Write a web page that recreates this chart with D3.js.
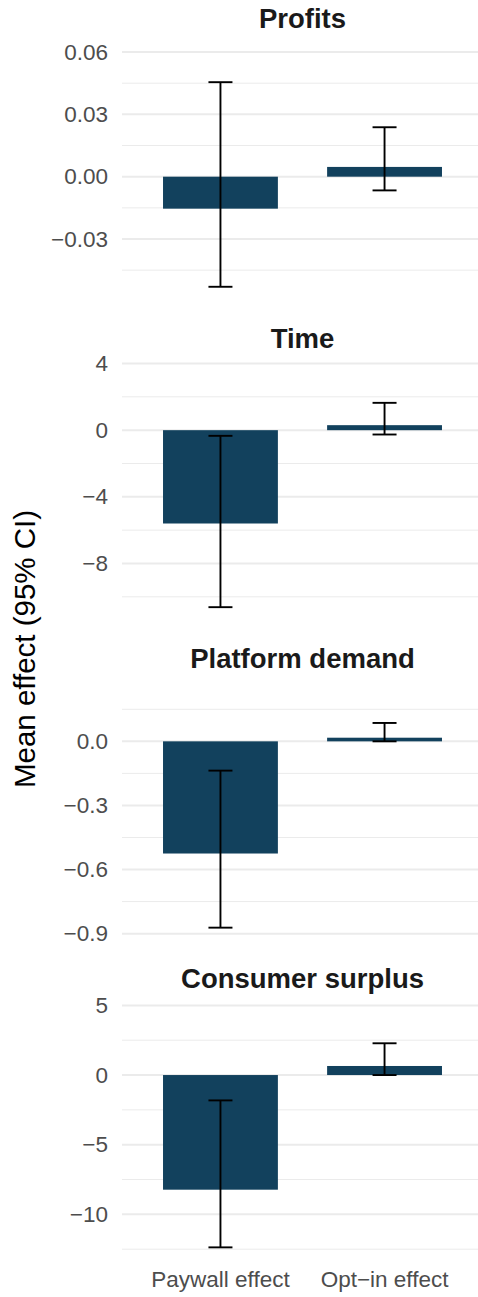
<!DOCTYPE html>
<html>
<head>
<meta charset="utf-8">
<script src="https://cdn.jsdelivr.net/npm/d3@7"></script>
<style>
  html, body { margin: 0; padding: 0; background: #ffffff; }
  svg { display: block; }
</style>
</head>
<body>
<div id="chart"></div>
<script>
// Effects by outcome, one facet per outcome
const categories = ["Paywall effect", "Opt\u2212in effect"];
const panelTitles = ["Profits", "Time", "Platform demand", "Consumer surplus"];

// Mean effect per category, one array per outcome
const meanProfits  = [-0.0154, 0.0047];
const meanTime     = [-5.60, 0.30];
const meanDemand   = [-0.525, 0.017];
const meanSurplus  = [-8.23, 0.65];

// 95% confidence interval bounds [low, high] per category
const ciProfits  = [[-0.0530, 0.0455], [-0.0066, 0.0238]];
const ciTime     = [[-10.62, -0.34], [-0.26, 1.64]];
const ciDemand   = [[-0.872, -0.137], [0.000, 0.086]];
const ciSurplus  = [[-12.37, -1.82], [0.00, 2.28]];

// y-axis limits per facet
const limProfits = [-0.0584, 0.0658];
const limTime    = [-11.28, 4.2];
const limDemand  = [-0.922, 0.2855];
const limSurplus = [-13.17, 5.35];

// major tick values and their labels per facet
const ticksProfits = [-0.03, 0, 0.03, 0.06];
const labelsProfits = ["\u22120.03", "0.00", "0.03", "0.06"];
const ticksTime = [-8, -4, 0, 4];
const labelsTime = ["\u22128", "\u22124", "0", "4"];
const ticksDemand = [-0.9, -0.6, -0.3, 0.0];
const labelsDemand = ["\u22120.9", "\u22120.6", "\u22120.3", "0.0"];
const ticksSurplus = [-10, -5, 0, 5];
const labelsSurplus = ["\u221210", "\u22125", "0", "5"];

const panels = [
  { title: panelTitles[0], mean: meanProfits, ci: ciProfits, lim: limProfits, ticks: ticksProfits, labels: labelsProfits },
  { title: panelTitles[1], mean: meanTime,    ci: ciTime,    lim: limTime,    ticks: ticksTime,    labels: labelsTime },
  { title: panelTitles[2], mean: meanDemand,  ci: ciDemand,  lim: limDemand,  ticks: ticksDemand,  labels: labelsDemand },
  { title: panelTitles[3], mean: meanSurplus, ci: ciSurplus, lim: limSurplus, ticks: ticksSurplus, labels: labelsSurplus }
];

const W = 478, H = 1297;
const FONT = "'Liberation Sans', Arial, Helvetica, sans-serif";
const barColor = "#12415d";
const gridColor = "#ebebeb";

const plotLeft = 122, plotRight = 483;
const blockH = 320.17;       // strip + panel height per facet
const panelTop = 40, panelBottom = 298;

const svg = d3.select("#chart").append("svg")
  .attr("width", W).attr("height", H)
  .style("font-family", FONT);

const x = d3.scalePoint().domain(categories).range([plotLeft, plotRight]).padding(0.6);
const barW = x.step() * 0.7;
const capW = 24;

panels.forEach((p, i) => {
  const g = svg.append("g").attr("transform", `translate(0,${i * blockH})`);
  const y = d3.scaleLinear().domain(p.lim).range([panelBottom, panelTop]);

  // minor gridlines halfway between majors
  const step = p.ticks[1] - p.ticks[0];
  const minor = [];
  for (let k = -1; k < p.ticks.length; k++) {
    const v = p.ticks[0] + (k + 0.5) * step;
    if (v >= p.lim[0] && v <= p.lim[1]) minor.push(v);
  }
  g.selectAll("line.minor").data(minor).enter().append("line")
    .attr("x1", plotLeft).attr("x2", plotRight)
    .attr("y1", d => y(d)).attr("y2", d => y(d))
    .attr("stroke", gridColor).attr("stroke-width", 1);

  g.selectAll("line.major").data(p.ticks).enter().append("line")
    .attr("x1", plotLeft).attr("x2", plotRight)
    .attr("y1", d => y(d)).attr("y2", d => y(d))
    .attr("stroke", gridColor).attr("stroke-width", 2);

  // tick labels
  g.selectAll("text.tick").data(p.ticks).enter().append("text")
    .attr("x", 108).attr("y", d => y(d))
    .attr("text-anchor", "end").attr("dominant-baseline", "central")
    .attr("font-size", 22.5).attr("fill", "#4d4d4d")
    .text((d, j) => p.labels[j]);

  // facet title
  g.append("text")
    .attr("x", (plotLeft + plotRight) / 2).attr("y", 27.5)
    .attr("text-anchor", "middle")
    .attr("font-size", 27.5).attr("font-weight", "bold").attr("fill", "#1a1a1a")
    .text(p.title);

  // bars
  g.selectAll("rect.bar").data(categories).enter().append("rect")
    .attr("x", d => x(d) - barW / 2)
    .attr("width", barW)
    .attr("y", (d, j) => Math.min(y(p.mean[j]), y(0)))
    .attr("height", (d, j) => Math.abs(y(p.mean[j]) - y(0)))
    .attr("fill", barColor);

  // error bars
  categories.forEach((c, j) => {
    const cx = x(c);
    const lo = y(p.ci[j][0]), hi = y(p.ci[j][1]);
    const eb = g.append("g").attr("stroke", "#000").attr("stroke-width", 1.9).attr("fill", "none");
    eb.append("line").attr("x1", cx).attr("x2", cx).attr("y1", lo).attr("y2", hi);
    eb.append("line").attr("x1", cx - capW / 2).attr("x2", cx + capW / 2).attr("y1", lo).attr("y2", lo);
    eb.append("line").attr("x1", cx - capW / 2).attr("x2", cx + capW / 2).attr("y1", hi).attr("y2", hi);
  });

  // x-axis labels on the bottom facet only
  if (i === panels.length - 1) {
    g.selectAll("text.xlab").data(categories).enter().append("text")
      .attr("x", d => x(d)).attr("y", 326)
      .attr("text-anchor", "middle")
      .attr("font-size", 22.5).attr("fill", "#4d4d4d")
      .text(d => d);
  }
});

// shared y-axis title
svg.append("text")
  .attr("transform", `translate(35,649) rotate(-90)`)
  .attr("text-anchor", "middle")
  .attr("font-size", 29.5).attr("fill", "#000")
  .text("Mean effect (95% CI)");
</script>
</body>
</html>
